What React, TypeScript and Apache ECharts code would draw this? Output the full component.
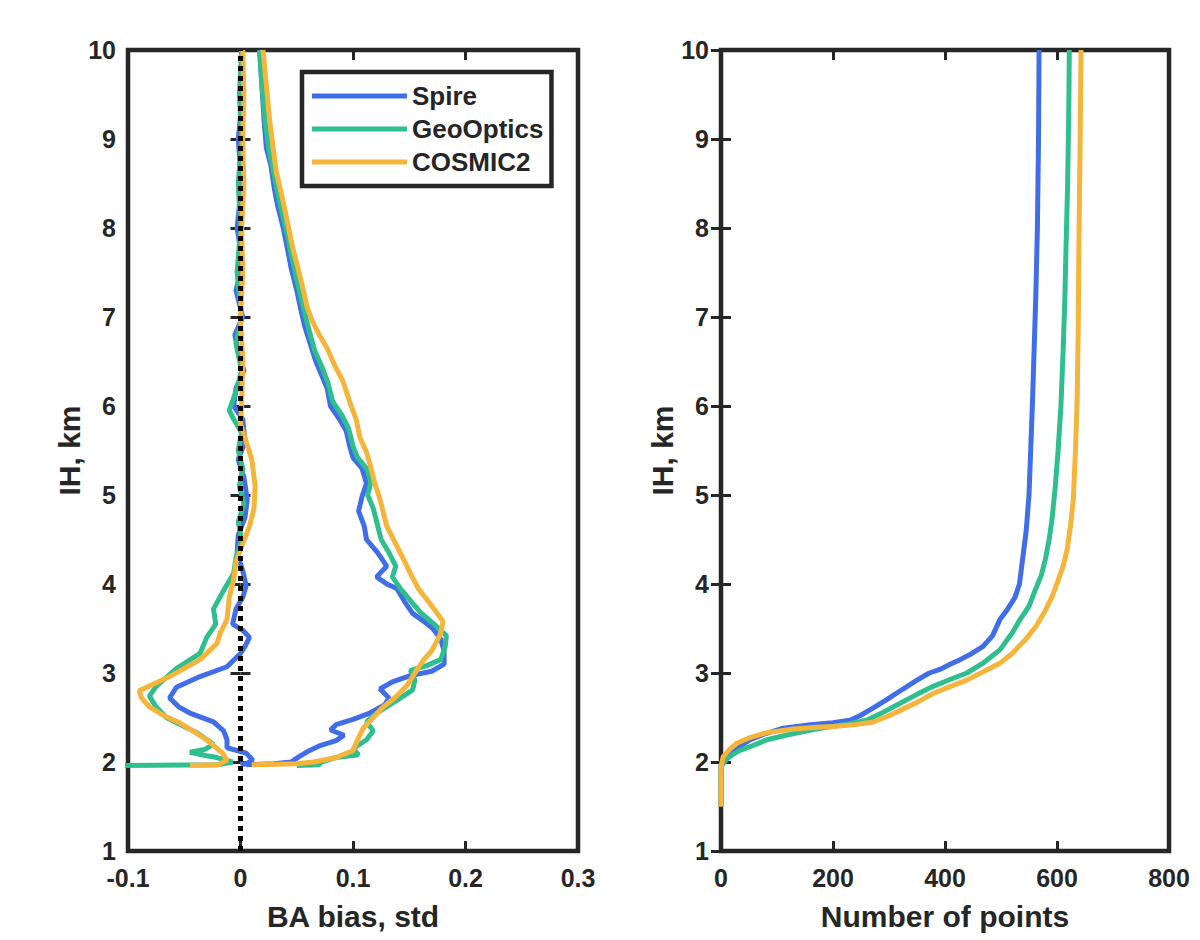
import React, { useEffect, useRef } from "react";
import * as echarts from "echarts";

const names = ["Spire", "GeoOptics", "COSMIC2"];
const colors = ["#3f6ee8", "#2fbf8e", "#f5b43a"];

// Left panel: [BA value, IH km]
const spireStd = [[0.017,10.0],[0.019,9.6],[0.021,9.2],[0.023,8.9],[0.027,8.7],[0.030,8.45],[0.033,8.25],[0.038,8.0],[0.042,7.75],[0.045,7.55],[0.050,7.3],[0.053,7.12],[0.057,6.9],[0.062,6.7],[0.067,6.5],[0.072,6.35],[0.077,6.2],[0.080,6.0],[0.088,5.85],[0.094,5.72],[0.097,5.55],[0.100,5.42],[0.108,5.3],[0.112,5.13],[0.108,4.98],[0.105,4.82],[0.110,4.65],[0.112,4.5],[0.122,4.35],[0.130,4.2],[0.121,4.08],[0.130,4.0],[0.139,3.95],[0.146,3.8],[0.153,3.67],[0.163,3.58],[0.171,3.5],[0.178,3.38],[0.181,3.25],[0.181,3.1],[0.170,3.02],[0.151,2.97],[0.135,2.9],[0.124,2.82],[0.132,2.72],[0.128,2.64],[0.115,2.55],[0.100,2.48],[0.085,2.42],[0.080,2.36],[0.092,2.3],[0.085,2.24],[0.070,2.18],[0.060,2.12],[0.052,2.06],[0.045,2.0],[0.030,1.98],[0.005,1.97]];
const spireBias = [[0.001,10],[0.002,9.5],[-0.002,9.0],[0.001,8.5],[-0.003,8.0],[0.002,7.6],[-0.004,7.3],[0.002,7.0],[-0.005,6.8],[-0.002,6.6],[0.003,6.4],[-0.004,6.2],[-0.006,6.0],[0.002,5.85],[0.004,5.6],[-0.002,5.4],[0.003,5.2],[0.006,4.95],[0.004,4.75],[-0.002,4.55],[-0.003,4.35],[0.002,4.15],[0.005,3.98],[0.002,3.85],[-0.004,3.72],[-0.007,3.55],[0.002,3.48],[0.008,3.4],[0.004,3.3],[0.0,3.22],[-0.012,3.07],[-0.036,2.96],[-0.057,2.84],[-0.063,2.72],[-0.055,2.62],[-0.045,2.55],[-0.024,2.45],[-0.015,2.35],[-0.012,2.25],[-0.012,2.16],[0.005,2.1],[0.011,2.02],[0.005,1.98],[0.0,1.97]];
const geoStd = [[0.017,10],[0.019,9.6],[0.022,9.2],[0.025,8.9],[0.029,8.65],[0.033,8.4],[0.037,8.17],[0.042,7.9],[0.046,7.65],[0.050,7.42],[0.054,7.2],[0.058,7.0],[0.062,6.8],[0.066,6.62],[0.072,6.45],[0.078,6.25],[0.082,6.05],[0.090,5.9],[0.096,5.75],[0.100,5.55],[0.104,5.42],[0.112,5.3],[0.116,5.15],[0.113,5.0],[0.118,4.85],[0.122,4.65],[0.125,4.5],[0.132,4.35],[0.138,4.2],[0.135,4.08],[0.142,3.95],[0.152,3.8],[0.160,3.68],[0.172,3.55],[0.183,3.42],[0.182,3.3],[0.178,3.15],[0.165,3.08],[0.151,3.03],[0.155,2.92],[0.153,2.81],[0.140,2.7],[0.121,2.55],[0.112,2.45],[0.118,2.35],[0.112,2.25],[0.100,2.15],[0.105,2.08],[0.085,2.05],[0.072,2.0],[0.070,1.97],[0.05,1.96]];
const geoBias = [[0.001,10],[-0.001,9.5],[0.001,9.0],[-0.002,8.5],[0.0,8.0],[-0.003,7.5],[0.001,7.0],[-0.004,6.7],[0.001,6.4],[-0.003,6.2],[-0.010,5.95],[-0.006,5.85],[0.001,5.7],[-0.002,5.5],[0.002,5.3],[-0.001,5.1],[0.003,4.9],[-0.002,4.7],[0.001,4.5],[-0.004,4.3],[-0.006,4.12],[-0.014,3.95],[-0.024,3.72],[-0.022,3.55],[-0.030,3.4],[-0.036,3.22],[-0.057,3.05],[-0.075,2.85],[-0.081,2.74],[-0.075,2.62],[-0.066,2.5],[-0.050,2.4],[-0.039,2.33],[-0.024,2.2],[-0.032,2.14],[-0.045,2.11],[-0.030,2.07],[-0.021,2.05],[-0.007,2.0],[-0.02,1.97],[-0.11,1.96]];
const cosmicStd = [[0.020,10],[0.023,9.6],[0.026,9.2],[0.029,8.9],[0.032,8.62],[0.037,8.35],[0.042,8.05],[0.046,7.8],[0.051,7.55],[0.055,7.35],[0.059,7.12],[0.064,6.95],[0.070,6.8],[0.077,6.65],[0.084,6.45],[0.091,6.28],[0.097,6.05],[0.103,5.84],[0.106,5.65],[0.112,5.48],[0.115,5.35],[0.119,5.15],[0.124,4.95],[0.127,4.8],[0.130,4.65],[0.138,4.45],[0.146,4.25],[0.151,4.12],[0.158,3.95],[0.166,3.82],[0.172,3.72],[0.180,3.58],[0.178,3.45],[0.175,3.37],[0.170,3.25],[0.163,3.15],[0.155,3.0],[0.148,2.86],[0.137,2.72],[0.127,2.62],[0.118,2.5],[0.109,2.38],[0.103,2.22],[0.100,2.13],[0.085,2.05],[0.065,2.0],[0.050,1.98],[0.01,1.97]];
const cosmicBias = [[0.002,10],[0.003,9.5],[0.002,9.0],[0.003,8.5],[0.001,8.0],[0.002,7.5],[0.000,7.0],[0.002,6.5],[0.001,6.0],[0.000,5.8],[0.005,5.6],[0.010,5.4],[0.013,5.1],[0.012,4.85],[0.008,4.65],[0.002,4.45],[-0.004,4.25],[-0.006,4.05],[-0.010,3.85],[-0.012,3.6],[-0.018,3.45],[-0.021,3.33],[-0.036,3.15],[-0.063,2.96],[-0.090,2.8],[-0.088,2.72],[-0.081,2.62],[-0.068,2.52],[-0.054,2.44],[-0.040,2.33],[-0.030,2.25],[-0.016,2.1],[-0.012,2.02],[-0.02,1.97],[-0.045,1.96]];
const zeroLine = [[0, 1], [0, 10]];

// Right panel: [number of points, IH km]
const spireN = [[0,1.5],[0,1.95],[4,2.02],[16,2.08],[35,2.18],[52,2.25],[80,2.32],[111,2.38],[160,2.42],[200,2.44],[230,2.47],[248,2.52],[270,2.6],[296,2.7],[325,2.82],[350,2.92],[372,3.0],[391,3.04],[410,3.1],[427,3.15],[448,3.22],[468,3.3],[485,3.42],[498,3.6],[512,3.72],[525,3.85],[533,4.0],[538,4.25],[545,4.6],[550,5.0],[553,5.5],[556,6.0],[559,6.6],[562,7.2],[565,8.0],[567,9.0],[568,10]];
const geoN = [[0,1.5],[0,1.95],[10,2.03],[20,2.08],[34,2.13],[55,2.18],[82,2.25],[130,2.32],[170,2.37],[200,2.4],[230,2.43],[260,2.47],[290,2.56],[320,2.66],[350,2.76],[379,2.85],[410,2.93],[439,3.0],[470,3.12],[498,3.26],[520,3.45],[534,3.6],[550,3.75],[561,3.93],[572,4.1],[579,4.27],[586,4.5],[591,4.72],[597,5.1],[602,5.5],[607,6.0],[611,6.63],[614,7.2],[616,7.75],[619,8.5],[621,9.3],[622,10]];
const cosmicN = [[0,1.5],[0,1.95],[4,2.06],[15,2.14],[28,2.21],[50,2.27],[82,2.33],[130,2.37],[170,2.39],[200,2.40],[240,2.42],[272,2.45],[300,2.52],[320,2.58],[350,2.67],[379,2.77],[410,2.85],[439,2.92],[470,3.02],[498,3.11],[520,3.22],[543,3.37],[562,3.52],[579,3.7],[592,3.87],[602,4.04],[611,4.2],[618,4.38],[624,4.65],[629,4.94],[633,5.5],[636,6.07],[638,6.9],[639,7.75],[641,8.8],[643,10]];

const leftSeries = [[spireBias, spireStd], [geoBias, geoStd], [cosmicBias, cosmicStd]];
const rightSeries = [spireN, geoN, cosmicN];

const FONT = "'Liberation Sans', Arial, Helvetica, sans-serif";
const DARK = "#262626";

function xAxisDef(gridIndex: number, min: number, max: number, interval: number, name: string, fmt: (v: number) => string) {
  return [
    {
      type: "value", gridIndex, min, max, interval, position: "bottom",
      name, nameLocation: "middle", nameGap: 50,
      nameTextStyle: { fontFamily: FONT, fontSize: 30, fontWeight: "bold", color: DARK },
      axisLine: { show: false },
      axisTick: { show: true, inside: true, length: 10, lineStyle: { color: DARK, width: 3 } },
      axisLabel: { margin: 14, fontFamily: FONT, fontSize: 25, fontWeight: "bold", color: DARK, formatter: fmt },
      splitLine: { show: false },
    },
    {
      type: "value", gridIndex, min, max, interval, position: "top",
      axisLine: { show: false },
      axisTick: { show: true, inside: true, length: 10, lineStyle: { color: DARK, width: 3 } },
      axisLabel: { show: false },
      splitLine: { show: false },
    },
  ];
}

function yAxisDef(gridIndex: number) {
  return [
    {
      type: "value", gridIndex, min: 1, max: 10, interval: 1, position: "left",
      name: "IH, km", nameLocation: "middle", nameGap: 44,
      nameTextStyle: { fontFamily: FONT, fontSize: 30, fontWeight: "bold", color: DARK },
      axisLine: { show: false },
      axisTick: { show: true, inside: true, length: 10, lineStyle: { color: DARK, width: 3 } },
      axisLabel: { margin: 12, fontFamily: FONT, fontSize: 25, fontWeight: "bold", color: DARK },
      splitLine: { show: false },
    },
    {
      type: "value", gridIndex, min: 1, max: 10, interval: 1, position: "right",
      axisLine: { show: false },
      axisTick: { show: true, inside: true, length: 10, lineStyle: { color: DARK, width: 3 } },
      axisLabel: { show: false },
      splitLine: { show: false },
    },
  ];
}

export default function App() {
  const ref = useRef<HTMLDivElement>(null);
  useEffect(() => {
    document.body.style.margin = "0";
    const chart = echarts.init(ref.current!, null, { renderer: "svg" });
    const series: any[] = [];
    leftSeries.forEach((pair, i) => {
      pair.forEach((d) => {
        series.push({
          type: "line", name: names[i], data: d, xAxisIndex: 0, yAxisIndex: 0,
          showSymbol: false, symbol: "none", color: colors[i],
          lineStyle: { width: 5, color: colors[i] }, clip: true, z: 3 + i,
        });
      });
    });
    series.push({
      type: "line", name: "zero", data: zeroLine, xAxisIndex: 0, yAxisIndex: 0,
      symbol: "none", lineStyle: { color: "#000", width: 5, type: [5, 5] }, z: 10,
    });
    rightSeries.forEach((d, i) => {
      series.push({
        type: "line", name: names[i], data: d, xAxisIndex: 2, yAxisIndex: 2,
        symbol: "none", color: colors[i],
        lineStyle: { width: 5, color: colors[i] }, clip: true, z: 3 + i,
      });
    });
    const fmt1 = (v: number) => String(Math.round(v * 10) / 10);
    const fmt0 = (v: number) => String(Math.round(v));
    chart.setOption({
      animation: false,
      backgroundColor: "#ffffff",
      grid: [
        { left: 128, top: 50, width: 450, height: 801, show: true, borderColor: DARK, borderWidth: 4.5, backgroundColor: "transparent" },
        { left: 721, top: 50, width: 448, height: 801, show: true, borderColor: DARK, borderWidth: 4.5, backgroundColor: "transparent" },
      ],
      xAxis: [
        ...xAxisDef(0, -0.1, 0.3, 0.1, "BA bias, std", fmt1),
        ...xAxisDef(1, 0, 800, 200, "Number of points", fmt0),
      ],
      yAxis: [...yAxisDef(0), ...yAxisDef(1)],
      legend: {
        data: names,
        orient: "vertical",
        left: 302, top: 72,
        padding: [11, 8, 11, 10],
        itemGap: 7,
        itemWidth: 95, itemHeight: 5,
        icon: "rect",
        borderColor: DARK, borderWidth: 4.5,
        backgroundColor: "#fff",
        textStyle: { fontFamily: FONT, fontSize: 26, fontWeight: "bold", color: DARK },
        selectedMode: false,
      },
      series,
    });
    return () => chart.dispose();
  }, []);
  return <div ref={ref} style={{ width: 1200, height: 940 }} />;
}
